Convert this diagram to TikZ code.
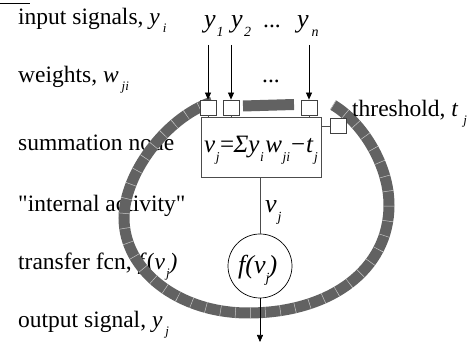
\documentclass[tikz,border=0pt]{standalone}
\usepackage{fontspec}
\setmainfont{Liberation Serif}[Ligatures=TeXOff]
\usetikzlibrary{arrows.meta}
% subscript for the 23.5pt labels
\newcommand\sbs[1]{\raisebox{-7.5pt}{\fontsize{13}{13}\selectfont\itshape #1}}
% subscript for the 26pt diagram text, tucked: #1 = horizontal shift, #2 = text
\newcommand\tuck[2]{\rlap{\kern#1\raisebox{-8.5pt}{\fontsize{14}{14}\selectfont\itshape #2}}}
% inline subscript for the 25pt equation
\newcommand\sbm[1]{\raisebox{-8.5pt}{\fontsize{13.5}{13.5}\selectfont\itshape #1}}
\definecolor{ringc}{RGB}{98,98,98}
\definecolor{tickc}{RGB}{200,200,200}
\begin{document}
\begin{tikzpicture}[x=1pt,y=-1pt,
  lbl/.style={anchor=base west, inner sep=0pt, font=\fontsize{23.5}{27}\selectfont},
  mlbl/.style={anchor=base west, inner sep=0pt, font=\fontsize{26}{30}\selectfont\itshape},
  smallbox/.style={draw=black!75, fill=white, line width=0.8pt, minimum width=16pt, minimum height=15pt, inner sep=0pt},
  sumbox/.style={draw=black!70, fill=white, line width=0.8pt, minimum width=120pt, minimum height=60pt, inner sep=0pt},
  fnode/.style={draw=black, fill=white, circle, line width=0.7pt, minimum size=64pt, inner sep=0pt},
  conn/.style={draw=black!70, line width=0.8pt},
  arr/.style={draw=black, line width=0.7pt, -{Triangle[length=7pt,width=6pt]}},
  ringline/.style={draw=ringc, line width=11pt},
  ticks/.style={draw=tickc, line width=11pt, dash pattern=on 0.5pt off 14.5pt}
]
\useasboundingbox (0,0) rectangle (467,344);
% cut-off mark at top left
\draw[line width=1.2pt] (0,3.5) -- (30,3.5);
% left labels
\node[lbl] (l1) at (18,25) {input signals, \textit{y}\kern3pt\sbs{i}};
\node[lbl] (l2) at (18,83) {weights, \textit{w}\kern3pt\sbs{ji}};
\node[lbl] (l3) at (18,151) {summation node};
\node[lbl] (l4) at (18,212) {"internal activity"};
\node[lbl] (l5) at (18,270) {transfer fcn, \textit{f}(\textit{v}\kern1pt\sbs{j}\textit{)}};
\node[lbl] (l6) at (18,328) {output signal, \textit{y}\kern3pt\sbs{j}};
% input labels
\node[mlbl] (y1) at (204,28) {y\tuck{1pt}{1}};
\node[mlbl] (y2) at (231,28) {y\tuck{1.5pt}{2}};
\node[lbl] (yd) at (263,28) {...};
\node[mlbl] (yn) at (297,28) {y\tuck{3pt}{n}};
\node[lbl] (wd) at (262,83) {...};
% ring
\draw[ringline] (333,105) .. controls (362,122) and (389,165) .. (389,205)
  .. controls (389,270) and (330,313) .. (248,313)
  .. controls (178,313) and (124,270) .. (124,218)
  .. controls (124,175) and (165,118) .. (212,102);
\draw[ticks] (333,105) .. controls (362,122) and (389,165) .. (389,205)
  .. controls (389,270) and (330,313) .. (248,313)
  .. controls (178,313) and (124,270) .. (124,218)
  .. controls (124,175) and (165,118) .. (212,102);
\draw[ringline] (243,106) -- (294,104.5);
% boxes
\node[sumbox] (sum) at (261,147) {};
\node[smallbox] (b1) at (208,107.5) {};
\node[smallbox] (b2) at (231,107.5) {};
\node[smallbox] (bn) at (309,107.5) {};
\node[smallbox] (tb) at (338,126) {};
\node[anchor=base west, inner sep=0pt, font=\fontsize{25}{29}\selectfont\itshape] (eq) at (204,153)
  {v\kern0.5pt\sbm{j}\kern0.5pt{\upshape =}\kern-0.5pt Σy\kern0.5pt\sbm{i}\kern1.5pt w\kern0.5pt\sbm{ji}\kern1pt{\upshape −}\kern1pt t\kern1pt\sbm{j}};
\draw[conn] (b1.south) -- (b1.south |- sum.north);
\draw[conn] (b2.south) -- (b2.south |- sum.north);
\draw[conn] (bn.south) -- (bn.south |- sum.north);
\draw[conn] (sum.east |- tb.west) -- (tb.west);
\node[lbl] (th) at (352,117) {threshold, \textit{t}\kern5pt\sbs{j}};
% input arrows
\coordinate (a1) at (208,45);
\coordinate (a2) at (231,45);
\coordinate (an) at (309,45);
\draw[arr] (a1) -- (b1.north);
\draw[arr] (a2) -- (b2.north);
\draw[arr] (an) -- (bn.north);
% transfer function
\node[fnode] (fn) at (260,266) {};
\node[mlbl] (fv) at (238,274) {f(v\tuck{0pt}{j}\kern3pt)};
\draw[conn] (sum.south -| fn.north) -- (fn.north);
\node[mlbl] (vj) at (265,213) {v\tuck{1pt}{j}};
\coordinate (out) at (260,342);
\draw[arr] (fn.south) -- (out);
\end{tikzpicture}
\end{document}
